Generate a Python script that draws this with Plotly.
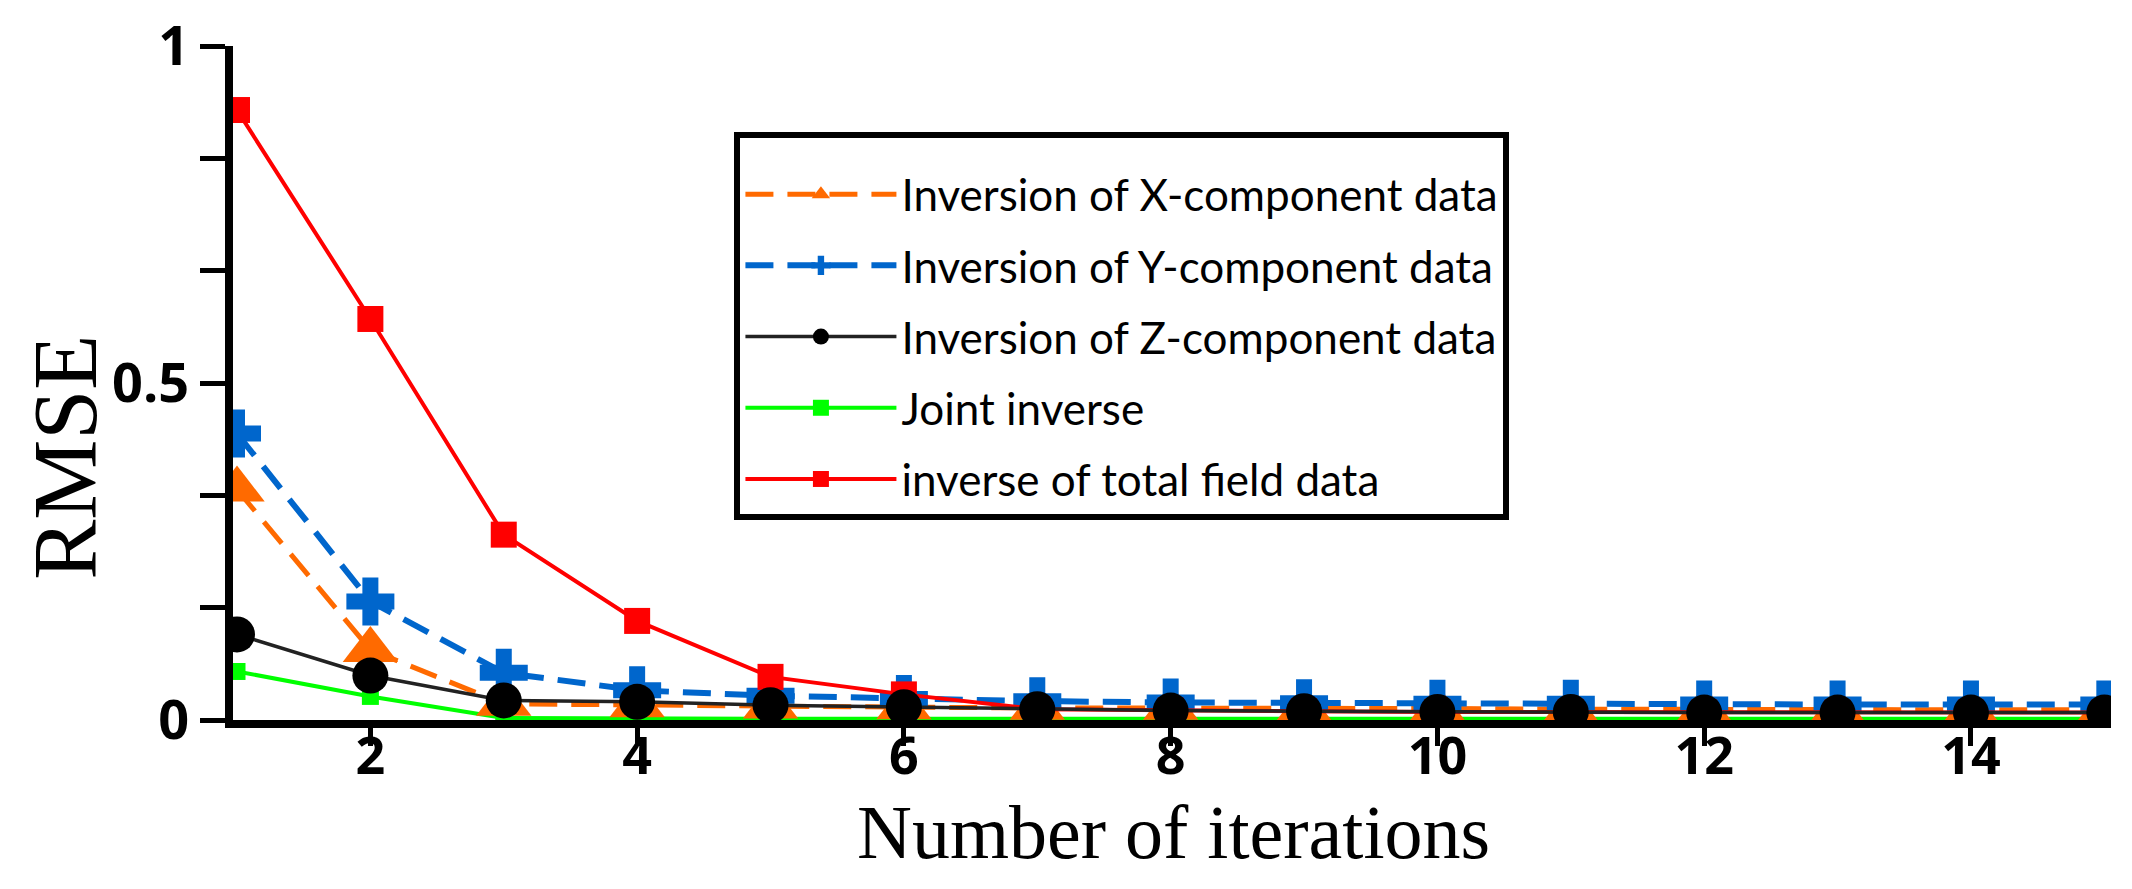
import plotly.graph_objects as go

iterations = list(range(1, 16))
x_comp = [0.342, 0.104, 0.024, 0.022, 0.020, 0.019, 0.018, 0.018, 0.017, 0.017, 0.016, 0.016, 0.015, 0.015, 0.015]
y_comp = [0.425, 0.176, 0.070, 0.044, 0.036, 0.031, 0.028, 0.026, 0.025, 0.024, 0.024, 0.023, 0.023, 0.023, 0.023]
z_comp = [0.127, 0.066, 0.029, 0.027, 0.022, 0.019, 0.016, 0.014, 0.013, 0.012, 0.012, 0.011, 0.011, 0.011, 0.011]
joint = [0.072, 0.035, 0.003, 0.002, 0.002, 0.002, 0.002, 0.002, 0.002, 0.002, 0.002, 0.002, 0.002, 0.002, 0.002]
total_field = [0.905, 0.595, 0.275, 0.147, 0.064, 0.038, 0.016, 0.014, 0.013, 0.012, 0.012, 0.011, 0.011, 0.011, 0.011]

names = ["Inversion of X-component data", "Inversion of Y-component data",
         "Inversion of Z-component data", "Joint inverse", "inverse of total field data"]

y_tickvals = [0, 1/6, 2/6, 0.5, 4/6, 5/6, 1]
y_ticktext = ["0", "", "", "0.5", "", "", "1"]
x_tickvals = [2, 4, 6, 8, 10, 12, 14]

fig = go.Figure()
fig.add_trace(go.Scatter(x=iterations, y=joint, name=names[3], mode="lines+markers",
                         line=dict(color="#00FF00", width=4),
                         marker=dict(symbol="square", size=17, color="#00FF00"),
                         legendrank=4, legendgroup="g4"))
fig.add_trace(go.Scatter(x=iterations, y=x_comp, name=names[0], mode="lines+markers",
                         line=dict(color="#FF6A00", width=5, dash="28px,14px"),
                         marker=dict(symbol="triangle-up", size=48, color="#FF6A00"),
                         legendrank=1, legendgroup="g1"))
fig.add_trace(go.Scatter(x=iterations, y=y_comp, name=names[1], mode="lines+markers",
                         line=dict(color="#0066CC", width=6, dash="28px,14px"),
                         marker=dict(symbol="cross", size=40, color="#0066CC"),
                         legendrank=2, legendgroup="g2"))
fig.add_trace(go.Scatter(x=iterations, y=total_field, name=names[4], mode="lines+markers",
                         line=dict(color="#FF0000", width=4),
                         marker=dict(symbol="square", size=26, color="#FF0000"),
                         legendrank=5, legendgroup="g5"))
fig.add_trace(go.Scatter(x=iterations, y=z_comp, name=names[2], mode="lines+markers",
                         line=dict(color="#222222", width=3.5),
                         marker=dict(symbol="circle", size=36, color="#000000"),
                         legendrank=3, legendgroup="g3"))

fig.update_layout(
    width=2132, height=889,
    margin=dict(l=225, r=29, t=38, b=177),
    plot_bgcolor="white", paper_bgcolor="white",
    showlegend=True,
    legend=dict(x=0.267, y=0.872, xanchor="left", yanchor="top",
                bgcolor="white", bordercolor="black", borderwidth=6,
                font=dict(family="Lato", size=44, color="black"),
                title=dict(text=" ", font=dict(size=16)),
                tracegroupgap=11, itemwidth=151),
    xaxis=dict(range=[0.97, 15.05], showgrid=False, zeroline=False, automargin=False,
               showline=True, linecolor="black", linewidth=8,
               ticks="outside", ticklen=18, tickwidth=5, tickcolor="black",
               tickvals=x_tickvals, ticklabelstandoff=-34,
               tickfont=dict(family="Open Sans", size=52, color="black", weight="bold")),
    yaxis=dict(range=[0, 1], showgrid=False, zeroline=False, automargin=False,
               showline=True, linecolor="black", linewidth=8,
               ticks="outside", ticklen=25, tickwidth=5, tickcolor="black",
               tickvals=y_tickvals, ticktext=y_ticktext, ticklabeloverflow="allow",
               tickfont=dict(family="Open Sans", size=54, color="black", weight="bold")),
    annotations=[
        dict(text="Number of iterations", xref="paper", yref="paper", x=0.501, y=-0.166,
             xanchor="center", yanchor="middle", showarrow=False,
             font=dict(family="Liberation Serif", size=76, color="black")),
        dict(text="RMSE", xref="paper", yref="paper", x=-0.0889, y=0.389,
             xanchor="center", yanchor="middle", showarrow=False, textangle=-90,
             font=dict(family="Liberation Serif", size=90, color="black")),
    ],
)

fig.write_html("out.html")
